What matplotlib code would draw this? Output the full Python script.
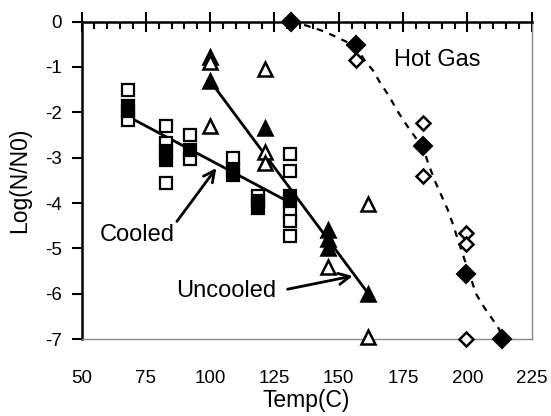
import matplotlib
matplotlib.use("Agg")
import matplotlib.pyplot as plt
from matplotlib.ticker import MultipleLocator

plt.rcParams['font.family'] = ['Liberation Sans', 'DejaVu Sans']
plt.rcParams['axes.unicode_minus'] = False

# Cooled (squares)
cooled_open_x = [68, 68, 83, 83, 83, 92, 92, 109, 118.5, 131, 131, 131, 131, 131]
cooled_open_y = [-1.5, -2.16, -2.31, -2.68, -3.55, -2.49, -3.04, -3.0, -3.85, -2.91, -3.3, -4.2, -4.4, -4.73]
cooled_fill_x = [68, 68, 83, 83, 92, 109, 109, 118.5, 118.5, 131, 131]
cooled_fill_y = [-1.85, -1.97, -2.85, -3.05, -2.82, -3.25, -3.38, -3.95, -4.1, -3.85, -3.95]
cooled_fit_x = [68, 131]
cooled_fit_y = [-2.09, -3.99]

# Uncooled (triangles)
uncooled_open_x = [100, 100, 100, 121.5, 121.5, 121.5, 146, 161.5, 161.5]
uncooled_open_y = [-0.77, -0.9, -2.3, -1.05, -2.88, -3.12, -5.42, -4.03, -6.95]
uncooled_fill_x = [100, 121.5, 146, 146, 146, 161.5]
uncooled_fill_y = [-1.31, -2.35, -4.6, -4.8, -5.0, -6.0]
uncooled_fit_x = [100, 161.5]
uncooled_fit_y = [-1.31, -6.0]

# Hot gas (diamonds)
hot_open_x = [156.6, 182.6, 182.6, 199.4, 199.4, 199.4]
hot_open_y = [-0.85, -2.24, -3.41, -4.66, -4.91, -7.0]
hot_fill_x = [131.5, 156.6, 182.6, 199.4, 213.6]
hot_fill_y = [0.0, -0.52, -2.75, -5.57, -7.0]
hot_curve_x = [131.5, 137, 143, 147.6, 152.8, 156.6, 160, 163.2, 165.8, 169.6, 172.9,
               176.7, 180, 182.6, 184.5, 187.1, 189.7, 192.3, 194.2, 198, 201.3, 203.3,
               206.5, 209.7, 212.3, 213.6]
hot_curve_y = [0, -0.08, -0.19, -0.3, -0.44, -0.55, -0.85, -1.07, -1.32, -1.65, -1.98,
               -2.31, -2.57, -2.75, -3.08, -3.48, -3.81, -4.14, -4.44, -5.1, -5.65, -6.0,
               -6.3, -6.56, -6.78, -7.0]

fig = plt.figure(figsize=(5.51, 4.16), dpi=100)
ax = fig.add_axes([0.148, 0.185, 0.817, 0.763])

ax.plot(cooled_fit_x, cooled_fit_y, color='black', lw=2, zorder=2)
ax.plot(uncooled_fit_x, uncooled_fit_y, color='black', lw=2, zorder=2)
ax.plot(hot_curve_x, hot_curve_y, color='black', lw=1.6, ls=(0, (3, 3)), zorder=2)

ax.plot(cooled_open_x, cooled_open_y, 's', ms=8, mfc='white', mec='black', mew=1.6, ls='none', clip_on=False, zorder=3)
ax.plot(cooled_fill_x, cooled_fill_y, 's', ms=8, mfc='black', mec='black', mew=1.6, ls='none', clip_on=False, zorder=3)
ax.plot(uncooled_open_x, uncooled_open_y, '^', ms=10, mfc='white', mec='black', mew=1.8, ls='none', clip_on=False, zorder=3)
ax.plot(uncooled_fill_x, uncooled_fill_y, '^', ms=10, mfc='black', mec='black', mew=1.8, ls='none', clip_on=False, zorder=3)
ax.plot(hot_open_x, hot_open_y, 'D', ms=7.5, mfc='white', mec='black', mew=1.8, ls='none', clip_on=False, zorder=3)
ax.plot(hot_fill_x, hot_fill_y, 'D', ms=9, mfc='black', mec='black', mew=1.5, ls='none', clip_on=False, zorder=3)

ax.text(171.6, -0.85, 'Hot Gas', fontsize=17, va='center', ha='left')
ax.annotate('Cooled', xy=(102.4, -3.23), xytext=(57.1, -4.71), fontsize=17,
            va='center', ha='left',
            arrowprops=dict(arrowstyle='->', lw=2, color='black', mutation_scale=20,
                            shrinkA=0, shrinkB=0, relpos=(1.0, 1.0)))
ax.annotate('Uncooled', xy=(155.4, -5.61), xytext=(86.9, -5.95), fontsize=17,
            va='center', ha='left',
            arrowprops=dict(arrowstyle='->', lw=2, color='black', mutation_scale=20,
                            shrinkA=6, shrinkB=0, relpos=(1.0, 0.5)))

ax.set_xlim(50, 225)
ax.set_ylim(-7, 0)
ax.xaxis.set_major_locator(MultipleLocator(25))
ax.xaxis.set_minor_locator(MultipleLocator(5))
ax.yaxis.set_major_locator(MultipleLocator(1))

ax.tick_params(axis='x', which='both', top=True, bottom=False, labeltop=False, labelbottom=True)
ax.tick_params(axis='x', which='major', direction='inout', length=14, width=1.5, pad=15, labelsize=13.5)
ax.tick_params(axis='x', which='minor', direction='in', length=5, width=1.5)
ax.tick_params(axis='y', which='major', direction='out', length=7, width=1.5, pad=7, labelsize=13.5)

ax.spines['top'].set_linewidth(1.8)
ax.spines['left'].set_linewidth(1.8)
ax.spines['bottom'].set_linewidth(1)
ax.spines['bottom'].set_color('#888888')
ax.spines['right'].set_linewidth(1)
ax.spines['right'].set_color('#888888')

ax.set_xlabel('Temp(C)', fontsize=16.5, labelpad=2)
ax.set_ylabel('Log(N/N0)', fontsize=16.5, labelpad=10)

fig.savefig('out.png', dpi=100)
